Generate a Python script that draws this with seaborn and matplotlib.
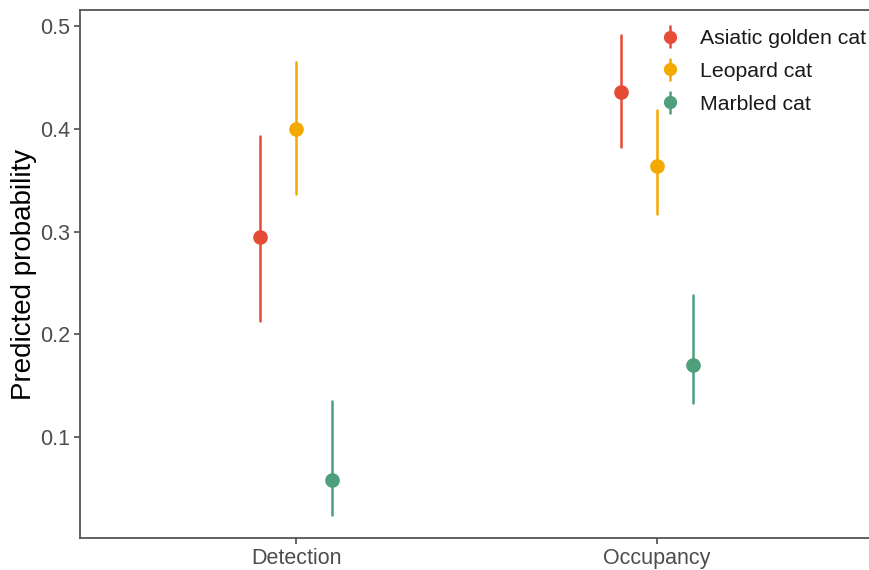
import numpy as np
import pandas as pd
import seaborn as sns
import matplotlib
matplotlib.use("Agg")
import matplotlib.pyplot as plt
from matplotlib.legend_handler import HandlerErrorbar
from matplotlib.container import ErrorbarContainer

params = ["Detection", "Occupancy"]
species = ["Asiatic golden cat", "Leopard cat", "Marbled cat"]
colors = ["#E64B35", "#F2A900", "#4E9F7B"]

# estimate, lower, upper per species for Detection / Occupancy
est = {"Asiatic golden cat": [0.295, 0.436],
       "Leopard cat":        [0.400, 0.364],
       "Marbled cat":        [0.058, 0.170]}
lower = {"Asiatic golden cat": [0.213, 0.382],
         "Leopard cat":        [0.337, 0.317],
         "Marbled cat":        [0.024, 0.133]}
upper = {"Asiatic golden cat": [0.393, 0.491],
         "Leopard cat":        [0.465, 0.418],
         "Marbled cat":        [0.135, 0.238]}

rows = []
for s in species:
    for i, p in enumerate(params):
        for v in (lower[s][i], est[s][i], upper[s][i]):
            rows.append({"param": p, "species": s, "value": v})
df = pd.DataFrame(rows)

sns.set_theme(style="white")
plt.rcParams["font.family"] = ["Liberation Sans", "DejaVu Sans"]

fig = plt.figure(figsize=(8.69, 5.70), dpi=100)
ax = fig.add_axes([80 / 869, 32 / 570, 793 / 869, 528 / 570])

sns.pointplot(data=df, x="param", y="value", hue="species", order=params,
              hue_order=species, palette=colors, estimator="median",
              errorbar=("pi", 100), dodge=0.2, linestyle="none",
              markers="o", markersize=8.5, err_kws={"linewidth": 1.8},
              legend=False, ax=ax)

ax.set_xlim(0 - 0.6, 1 + 0.6)
ax.set_ylim(0.0017, 0.5156)
ax.set_yticks([0.1, 0.2, 0.3, 0.4, 0.5])
ax.set_yticklabels(["0.1", "0.2", "0.3", "0.4", "0.5"])
ax.set_xlabel("")
ax.set_ylabel("Predicted probability", fontsize=20, color="black", labelpad=2)
ax.tick_params(axis="both", labelsize=15.5, colors="#4D4D4D", length=4,
               width=1.2, direction="out", left=True, bottom=True, pad=3)
for side in ["left", "bottom", "top"]:
    ax.spines[side].set_color("#555555")
    ax.spines[side].set_linewidth(1.3)
ax.spines["right"].set_visible(False)

handles = []
for s, c in zip(species, colors):
    h = ax.errorbar([np.nan], [np.nan], yerr=[[np.nan], [np.nan]], fmt="o",
                    color=c, markersize=8.5, elinewidth=1.8, capsize=0, label=s)
    handles.append(h)
leg = fig.legend(handles=handles, labels=species, loc="upper left",
                 bbox_to_anchor=(657 / 869, 1 - 29 / 570), frameon=False,
                 fontsize=15.3, handlelength=1.2, handletextpad=0.8,
                 labelspacing=0.65, borderpad=0, borderaxespad=0,
                 handler_map={ErrorbarContainer: HandlerErrorbar(yerr_size=0.55)})
for t in leg.get_texts():
    t.set_color("#1A1A1A")

fig.savefig("out.png", dpi=100)
